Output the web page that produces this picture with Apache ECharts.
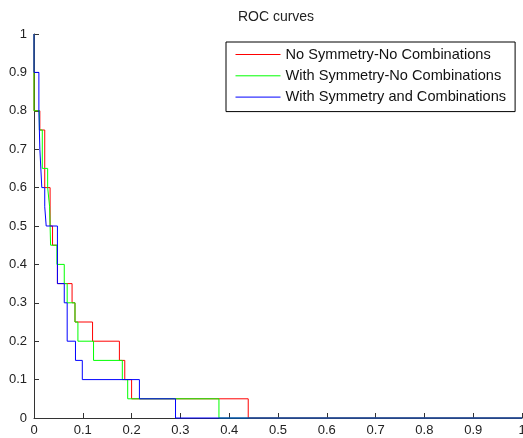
<!DOCTYPE html>
<html>
<head>
<meta charset="utf-8">
<script src="https://cdn.jsdelivr.net/npm/echarts@6/dist/echarts.min.js"></script>
<style>
html,body{margin:0;padding:0;background:#fff;}
#chart{width:523px;height:438px;}
</style>
</head>
<body>
<div id="chart"></div>
<script>
// Series names
const seriesNames = ['No Symmetry-No Combinations', 'With Symmetry-No Combinations', 'With Symmetry and Combinations'];
// ROC stair corners (false positive rate, true positive rate)
const redFPR   = [0, 0.012, 0.022, 0.033, 0.038, 0.048, 0.078, 0.084, 0.120, 0.175, 0.186, 0.200, 0.439, 1];
const redTPR   = [1, 0.80,  0.75,  0.60,  0.50,  0.45,  0.35,  0.30,  0.25,  0.20,  0.15,  0.10,  0.05,  0];
const greenFPR = [0, 0.011, 0.017, 0.028, 0.032, 0.034, 0.047, 0.062, 0.068, 0.084, 0.090, 0.122, 0.181, 0.192, 0.379, 1];
const greenTPR = [1, 0.80,  0.75,  0.65,  0.60,  0.55,  0.45,  0.40,  0.35,  0.30,  0.25,  0.20,  0.15,  0.10,  0.05,  0];
const blueFPR  = [0, 0.010, 0.012, 0.016, 0.022, 0.025, 0.048, 0.062, 0.068, 0.085, 0.099, 0.216, 0.290, 1];
const blueTPR  = [1, 0.90,  0.80,  0.70,  0.60,  0.55,  0.50,  0.35,  0.30,  0.20,  0.15,  0.10,  0.05,  0];
// Tick labels
const tickLabels = ['0', '0.1', '0.2', '0.3', '0.4', '0.5', '0.6', '0.7', '0.8', '0.9', '1'];

function pairs(xs, ys) { return xs.map((x, i) => [x, ys[i]]); }

const FONT = 'Liberation Sans, Helvetica, Arial, sans-serif';
const axisCommon = {
  type: 'value', min: 0, max: 1, interval: 0.1,
  splitLine: { show: false },
  axisLine: { show: true, lineStyle: { color: '#333', width: 1 } },
  axisTick: { show: true, inside: true, length: 5, lineStyle: { color: '#333' } },
  axisLabel: {
    color: '#222', fontSize: 13, fontFamily: FONT, margin: 7,
    formatter: v => tickLabels[Math.round(v * 10)]
  }
};

const chart = echarts.init(document.getElementById('chart'), null, { renderer: 'canvas' });
const colors = ['#ff0000', '#00ff00', '#0000ff'];
const data = [pairs(redFPR, redTPR), pairs(greenFPR, greenTPR), pairs(blueFPR, blueTPR)];

chart.setOption({
  animation: false,
  backgroundColor: '#ffffff',
  title: {
    text: 'ROC curves', left: 276, top: 10, padding: 0, textAlign: 'center',
    textStyle: { fontSize: 14, fontWeight: 'normal', color: '#222', fontFamily: FONT }
  },
  legend: {
    orient: 'vertical', left: 226, top: 42,
    padding: [5, 9, 7, 9],
    itemWidth: 45, itemHeight: 14, itemGap: 6.3,
    borderColor: '#000', borderWidth: 1, backgroundColor: '#fff',
    itemStyle: { opacity: 0 },
    lineStyle: { width: 1 },
    textStyle: { fontSize: 14.6, color: '#111', fontFamily: FONT },
    data: seriesNames
  },
  grid: { left: 34, right: 1, top: 34, bottom: 20, containLabel: false, outerBoundsMode: 'none' },
  xAxis: Object.assign({}, axisCommon, { axisLabel: Object.assign({}, axisCommon.axisLabel, { margin: 6 }) }),
  yAxis: axisCommon,
  series: seriesNames.map((n, i) => ({
    name: n, type: 'line', step: 'start', data: data[i],
    symbol: 'none', color: colors[i],
    lineStyle: { color: colors[i], width: 1 },
    clip: false, z: 2 + i
  }))
});
</script>
</body>
</html>
